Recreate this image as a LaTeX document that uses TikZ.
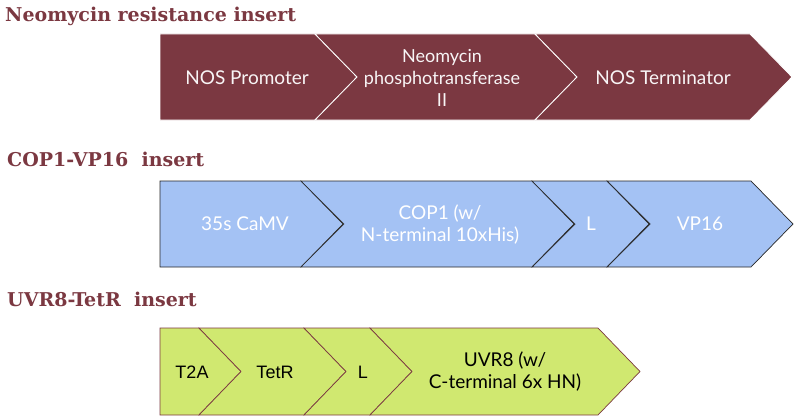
\documentclass[tikz,border=0pt]{standalone}
\usepackage{fontspec}
\setmainfont{Lato}
\newfontfamily\titlefont{DejaVu Serif}
\newfontfamily\arialfont{Liberation Sans}
\usetikzlibrary{calc}

\definecolor{neored}{HTML}{7B3841}
\definecolor{copblue}{HTML}{A4C2F4}
\definecolor{uvrgreen}{HTML}{D0E870}

% one segment of an insert: style, left, right, top, bottom, notch depth
\newcommand{\segm}[6]{%
  \draw[#1] (#2,#4) -- (#3,#4) -- ({#3+42},{(#4+#5)/2}) -- (#3,#5) -- (#2,#5)
    -- ({#2+#6},{(#4+#5)/2}) -- cycle;}

\begin{document}
\begin{tikzpicture}[x=1pt,y=-1pt,
    ttl/.style={font=\titlefont\bfseries\fontsize{19}{22}\selectfont, text=neored, anchor=base west, inner sep=0pt},
    lbl/.style={font=\fontsize{19}{22}\selectfont, align=center, inner sep=0pt},
    neoseg/.style={fill=neored, draw=white, line width=0.8pt},
    copseg/.style={fill=copblue, draw=black!85, line width=0.7pt},
    uvrseg/.style={fill=uvrgreen, draw=neored, line width=0.7pt}]
    \useasboundingbox (0,0) rectangle (801,420);

    % Neomycin resistance insert
    \node[ttl] (neotitle) at (5,22) {Neomycin resistance insert};
    \segm{neoseg}{160}{315}{34}{120}{0}
    \segm{neoseg}{315}{535}{34}{120}{42}
    \segm{neoseg}{535}{750}{34}{120}{42}
    \node[lbl, text=white!95!neored] (nospro) at (247,78) {NOS Promoter};
    \node[lbl, text=white!95!neored, font=\fontsize{18}{22}\selectfont] (neopt) at (442,78) {Neomycin\\phosphotransferase\\II};
    \node[lbl, text=white!95!neored] (noster) at (663,78) {NOS Terminator};

    % COP1-VP16 insert
    \node[ttl] (coptitle) at (7,166) {COP1-VP16\ \ insert};
    \segm{copseg}{160}{301}{181}{267}{0}
    \segm{copseg}{301}{532}{181}{267}{43}
    \segm{copseg}{532}{607}{181}{267}{43}
    \segm{copseg}{607}{751}{181}{267}{43}
    \node[lbl, text=white] (camv) at (245,224) {35s CaMV};
    \node[lbl, text=white] (cop) at (440,225) {COP1 (w/\\N-terminal 10xHis)};
    \node[lbl, text=white] (copl) at (591,224) {L};
    \node[lbl, text=white] (vp) at (700,224) {VP16};

    % UVR8-TetR insert
    \node[ttl] (uvrtitle) at (7,306) {UVR8-TetR\ \ insert};
    \segm{uvrseg}{160}{199}{328}{415}{0}
    \segm{uvrseg}{199}{304}{328}{415}{42}
    \segm{uvrseg}{304}{370}{328}{415}{42}
    \segm{uvrseg}{370}{598}{328}{415}{42}
    \node[lbl, font=\arialfont\fontsize{18}{22}\selectfont] (tta) at (192,372) {T2A};
    \node[lbl, font=\arialfont\fontsize{18}{22}\selectfont] (tetr) at (275,372) {TetR};
    \node[lbl, font=\arialfont\fontsize{18}{22}\selectfont] (uvrl) at (363,372) {L};
    \node[lbl] (uvr) at (505,372) {UVR8 (w/\\C-terminal 6x HN)};
\end{tikzpicture}
\end{document}
